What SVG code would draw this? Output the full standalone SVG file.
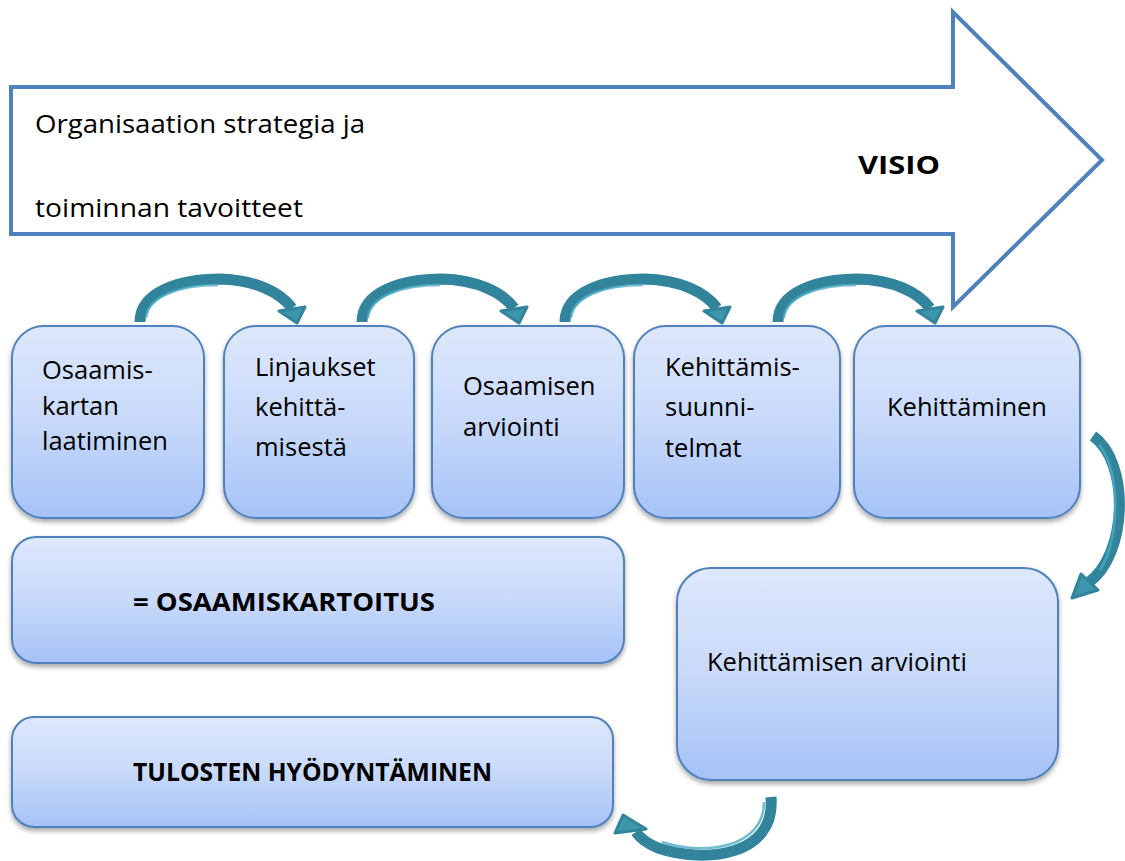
<svg xmlns="http://www.w3.org/2000/svg" width="1125" height="861" viewBox="0 0 1125 861">
  <defs>
    <linearGradient id="boxFill" x1="0" y1="0" x2="0" y2="1">
      <stop offset="0" stop-color="#dee8fc"/>
      <stop offset="0.5" stop-color="#c8d9fa"/>
      <stop offset="1" stop-color="#a5c2f7"/>
    </linearGradient>
    <filter id="shadow" x="-10%" y="-10%" width="120%" height="130%">
      <feDropShadow dx="0" dy="3" stdDeviation="2.5" flood-color="#000" flood-opacity="0.35"/>
    </filter>
    <g id="hop">
      <path class="shaft" d="M140,322 C140,292 180,279 220,279 C255,280 280,292 292,308"/>
      <path class="shine" d="M146,318 C148,296 180,285 218,285"/>
      <polygon class="head" points="279,311 305,307 297,323"/>
    </g>
  </defs>
  <style>
    .box { fill: url(#boxFill); stroke: #4f81bd; stroke-width: 2; filter: url(#shadow); }
    .txt { font-family: "Open Sans", "Liberation Sans", sans-serif; font-size: 25.5px; fill: #000; }
    .big { font-size: 26px; }
    .bold { font-weight: bold; }
    .shaft { fill: none; stroke: #31849b; stroke-width: 11; }
    .shine { fill: none; stroke: #4bacc6; stroke-width: 2.5; opacity: 0.8; }
    .head { fill: #3c97ad; stroke: #31849b; stroke-width: 3; stroke-linejoin: round; }
  </style>

  <!-- strategy / vision block arrow -->
  <g id="strategy-arrow">
    <polygon points="11,87 953,87 953,12 1102,160 953,307 953,234 11,234" fill="#fff" stroke="#4f81bd" stroke-width="4"/>
    <text class="txt big" x="35" y="133" textLength="330" lengthAdjust="spacingAndGlyphs">Organisaation strategia ja</text>
    <text class="txt big" x="35" y="217" textLength="268" lengthAdjust="spacingAndGlyphs">toiminnan tavoitteet</text>
    <text class="txt bold" x="858" y="174" font-size="30" textLength="82" lengthAdjust="spacingAndGlyphs">VISIO</text>
  </g>

  <!-- process steps -->
  <g id="step-1">
    <rect class="box" x="12" y="326" width="192" height="192" rx="32"/>
    <text class="txt" x="42" y="379">Osaamis-</text>
    <text class="txt" x="42" y="415">kartan</text>
    <text class="txt" x="42" y="450">laatiminen</text>
  </g>
  <g id="step-2">
    <rect class="box" x="224" y="326" width="190" height="192" rx="32"/>
    <text class="txt" x="255" y="376">Linjaukset</text>
    <text class="txt" x="255" y="416">kehittä-</text>
    <text class="txt" x="255" y="456">misestä</text>
  </g>
  <g id="step-3">
    <rect class="box" x="432" y="326" width="192" height="192" rx="32"/>
    <text class="txt" x="463" y="395">Osaamisen</text>
    <text class="txt" x="463" y="436">arviointi</text>
  </g>
  <g id="step-4">
    <rect class="box" x="634" y="326" width="206" height="192" rx="32"/>
    <text class="txt" x="665" y="376">Kehittämis-</text>
    <text class="txt" x="665" y="416">suunni-</text>
    <text class="txt" x="665" y="457">telmat</text>
  </g>
  <g id="step-5">
    <rect class="box" x="854" y="326" width="226" height="192" rx="32"/>
    <text class="txt" x="887" y="416">Kehittäminen</text>
  </g>
  <g id="mapping">
    <rect class="box" x="12" y="537" width="612" height="126" rx="24"/>
    <text class="txt bold" x="133" y="611" font-size="25" textLength="302" lengthAdjust="spacingAndGlyphs">= OSAAMISKARTOITUS</text>
  </g>
  <g id="evaluation">
    <rect class="box" x="677" y="568" width="381" height="212" rx="34"/>
    <text class="txt" x="707" y="671">Kehittämisen arviointi</text>
  </g>
  <g id="utilisation">
    <rect class="box" x="12" y="717" width="601" height="110" rx="22"/>
    <text class="txt bold" x="133" y="781" font-size="24.5" textLength="359" lengthAdjust="spacingAndGlyphs">TULOSTEN HYÖDYNTÄMINEN</text>
  </g>

  <!-- curved connectors -->
  <g id="connectors">
    <use href="#hop"/>
    <use href="#hop" transform="translate(222,0)"/>
    <use href="#hop" transform="translate(425,0)"/>
    <use href="#hop" transform="translate(638,0)"/>
    <path class="shaft" d="M1093,436 C1130,462 1128,555 1088,583" stroke-width="13"/>
    <path class="shine" d="M1099,445 C1121,470 1120,540 1100,570"/>
    <polygon class="head" points="1081,574 1098,590 1072,598"/>
    <path class="shaft" d="M771,797 C776,856 705,864 658,848 C646,843 640,838 636,832" stroke-width="14"/>
    <path class="shine" d="M764,802 C764,848 705,856 662,842"/>
    <polygon class="head" points="615,833 623,815 646,829"/>
  </g>
</svg>
